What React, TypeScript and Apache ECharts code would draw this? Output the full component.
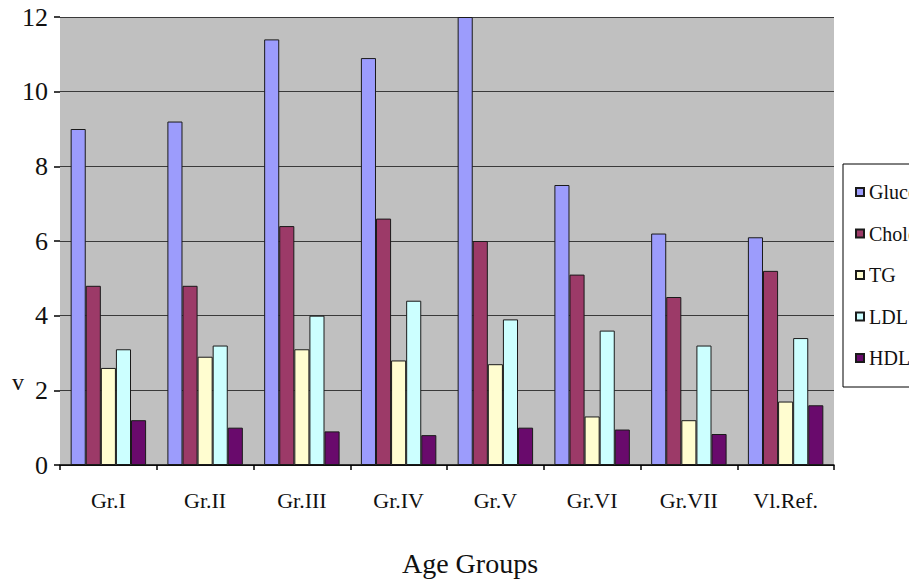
import React, { useEffect, useRef } from "react";
import * as echarts from "echarts";

// Age groups along the x axis
const categories = ["Gr.I", "Gr.II", "Gr.III", "Gr.IV", "Gr.V", "Gr.VI", "Gr.VII", "Vl.Ref."];

// Mean values per group for each measured parameter
const glucose = [9.0, 9.2, 11.4, 10.9, 12.0, 7.5, 6.2, 6.1];
const cholesterol = [4.8, 4.8, 6.4, 6.6, 6.0, 5.1, 4.5, 5.2];
const tg = [2.6, 2.9, 3.1, 2.8, 2.7, 1.3, 1.2, 1.7];
const ldl = [3.1, 3.2, 4.0, 4.4, 3.9, 3.6, 3.2, 3.4];
const hdl = [1.2, 1.0, 0.9, 0.8, 1.0, 0.95, 0.83, 1.6];

const yTicks = { min: 0, max: 12, interval: 2 };

const seriesDefs = [
  { name: "Glucose", data: glucose, color: "#9c9cfc" },
  { name: "Cholesterol", data: cholesterol, color: "#9c3a68" },
  { name: "TG", data: tg, color: "#fffdd0" },
  { name: "LDL", data: ldl, color: "#ccffff" },
  { name: "HDL", data: hdl, color: "#690a6c" },
];

const FONT = "'Liberation Serif', 'DejaVu Serif', serif";

export default function App() {
  const ref = useRef<HTMLDivElement>(null);

  useEffect(() => {
    if (!ref.current) return;
    const chart = echarts.init(ref.current, undefined, { renderer: "svg" });
    chart.setOption({
      animation: false,
      backgroundColor: "#ffffff",
      textStyle: { fontFamily: FONT },
      grid: {
        left: 60,
        right: 75,
        top: 17,
        bottom: 115,
        show: true,
        backgroundColor: "#c0c0c0",
        borderWidth: 0,
      },
      legend: {
        orient: "vertical",
        left: 843,
        top: 164,
        padding: [18, 60, 19, 12],
        itemWidth: 8,
        itemHeight: 8,
        itemGap: 21.5,
        icon: "rect",
        borderColor: "#000",
        borderWidth: 1,
        backgroundColor: "#ffffff",
        textStyle: { fontFamily: FONT, fontSize: 20, color: "#111", lineHeight: 20 },
        data: seriesDefs.map((s) => s.name),
      },
      xAxis: {
        type: "category",
        data: categories,
        axisLine: { show: true, lineStyle: { color: "#000", width: 1.5 } },
        axisTick: { show: true, length: 5, lineStyle: { color: "#000", width: 1.5 } },
        axisLabel: {
          interval: 0,
          margin: 24,
          fontFamily: FONT,
          fontSize: 22,
          color: "#111",
        },
        splitLine: { show: false },
      },
      yAxis: {
        type: "value",
        min: yTicks.min,
        max: yTicks.max,
        interval: yTicks.interval,
        axisLine: { show: false },
        axisTick: { show: true, length: 6, lineStyle: { color: "#000", width: 1.5 } },
        axisLabel: {
          margin: 12,
          fontFamily: FONT,
          fontSize: 26,
          color: "#111",
        },
        splitLine: { show: true, lineStyle: { color: "#3a3a3a", width: 1.2 } },
      },
      graphic: [
        {
          type: "text",
          x: 12,
          y: 370,
          style: { text: "v", fontFamily: FONT, fontSize: 24, fill: "#111" },
        },
        {
          type: "text",
          x: 470,
          y: 549,
          style: {
            text: "Age Groups",
            fontFamily: FONT,
            fontSize: 28,
            fill: "#111",
            align: "center",
            verticalAlign: "top",
          },
        },
      ],
      series: seriesDefs.map((s) => ({
        name: s.name,
        type: "bar",
        data: s.data,
        barGap: "0%",
        barCategoryGap: "22%",
        itemStyle: { color: s.color, borderColor: "#1a1a1a", borderWidth: 1 },
        emphasis: { disabled: true },
      })),
    });
    return () => chart.dispose();
  }, []);

  return (
    <div
      ref={ref}
      style={{ position: "fixed", left: 0, top: 0, width: 909, height: 580 }}
    />
  );
}
